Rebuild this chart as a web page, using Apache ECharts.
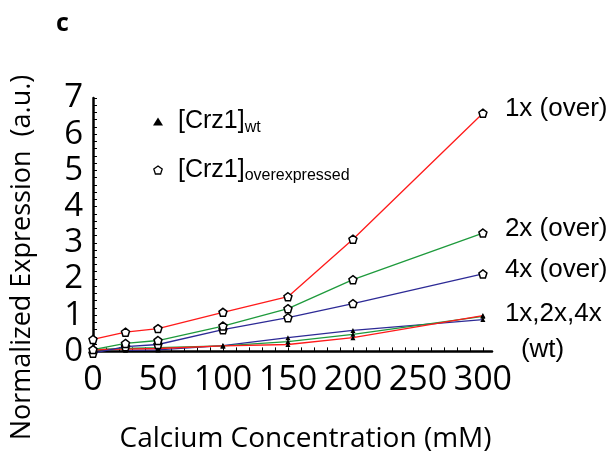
<!DOCTYPE html>
<html>
<head>
<meta charset="utf-8">
<script src="https://cdn.jsdelivr.net/npm/echarts@6/dist/echarts.min.js"></script>
<style>
  html, body { margin: 0; padding: 0; background: #fff; }
  #chart { width: 613px; height: 460px; }
</style>
</head>
<body>
<div id="chart"></div>
<script>
// Calcium concentrations (mM) and normalized expression for each construct
const calcium = [0, 25, 50, 100, 150, 200, 300];
const over1x = [0.33, 0.53, 0.63, 1.08, 1.51, 3.1, 6.58];
const over2x = [0.05, 0.22, 0.3, 0.7, 1.18, 1.98, 3.27];
const over4x = [-0.05, 0.13, 0.19, 0.6, 0.93, 1.32, 2.14];
const wt1x = [0.05, 0.06, 0.08, 0.15, 0.19, 0.38, 0.99];
const wt2x = [0.05, 0.08, 0.1, 0.15, 0.27, 0.47, 0.97];
const wt4x = [null, 0.03, 0.04, 0.16, 0.38, 0.58, 0.88];

// Axis tick labels
const xTickLabels = [0, 50, 100, 150, 200, 250, 300];
const yTickLabels = [0, 1, 2, 3, 4, 5, 6, 7];

const xMinorTicks = [];
for (let v = 0; v <= 300; v += 10) xMinorTicks.push(v);
const yMinorTicks = [];
for (let v = 0; v <= 35; v++) yMinorTicks.push(+(v * 0.2).toFixed(1));

const RED = '#ff1a1a', GREEN = '#1e9a3c', BLUE = '#2d2a96';
const PENTAGON = 'path://M0,-1L0.951,-0.309L0.588,0.809L-0.588,0.809L-0.951,-0.309Z';
const FONT = 'Open Sans';
const LABEL_FONT = 'Liberation Sans';

function pairs(values) {
  return calcium.map((c, i) => [c, values[i]]);
}

function overSeries(values, color, tag) {
  return {
    name: 'overexpressed',
    type: 'line',
    data: pairs(values),
    symbol: PENTAGON,
    symbolSize: 8,
    showAllSymbol: true,
    clip: false,
    z: 3,
    lineStyle: { color: color, width: 1.3 },
    itemStyle: { color: '#fff', borderColor: '#000', borderWidth: 1.5 },
    endLabel: {
      show: true,
      formatter: tag,
      distance: 22,
      offset: [0, -4],
      color: '#000',
      fontFamily: LABEL_FONT,
      fontSize: 26
    }
  };
}

function wtSeries(values, color, label) {
  const s = {
    name: 'wt',
    type: 'line',
    data: pairs(values),
    symbol: 'triangle',
    symbolSize: 5,
    showAllSymbol: true,
    connectNulls: false,
    clip: false,
    z: 2,
    lineStyle: { color: color, width: 1.3 },
    itemStyle: { color: '#000' }
  };
  if (label) {
    s.endLabel = {
      show: true,
      formatter: '{a|1x,2x,4x}\n{b|(wt)}',
      distance: 22,
      offset: [0, 16],
      color: '#000',
      fontFamily: LABEL_FONT,
      fontSize: 26,
      lineHeight: 36,
      rich: {
        a: { fontFamily: LABEL_FONT, fontSize: 26, lineHeight: 36 },
        b: { fontFamily: LABEL_FONT, fontSize: 26, lineHeight: 36, padding: [0, 0, 0, 16] }
      }
    };
  }
  return s;
}

const chart = echarts.init(document.getElementById('chart'), null, { renderer: 'canvas' });

chart.setOption({
  animation: false,
  backgroundColor: '#fff',
  grid: { left: 93, right: 121, top: 98, bottom: 105, containLabel: false },
  legend: {
    orient: 'vertical',
    left: 148,
    top: 104,
    itemGap: 22,
    itemWidth: 10,
    itemHeight: 8,
    selectedMode: false,
    data: [
      { name: 'wt', icon: 'triangle', itemStyle: { color: '#000', borderWidth: 0 } },
      { name: 'overexpressed', icon: PENTAGON, itemStyle: { color: '#fff', borderColor: '#000', borderWidth: 1.3 } }
    ],
    formatter: name => '{a|[Crz1]}{b|' + name + '}',
    textStyle: {
      color: '#000',
      rich: {
        a: { fontFamily: LABEL_FONT, fontSize: 25, color: '#000', padding: [0, 0, 0, 10] },
        b: { fontFamily: LABEL_FONT, fontSize: 16, color: '#000', padding: [12, 0, 0, 0] }
      }
    }
  },
  graphic: [
    {
      type: 'text',
      left: 56,
      top: 11,
      style: { text: 'c', font: 'bold 25px "Open Sans"', fill: '#000' }
    }
  ],
  xAxis: {
    type: 'value',
    min: 0,
    max: 307,
    name: 'Calcium Concentration (mM)',
    nameLocation: 'middle',
    nameGap: 70,
    nameTextStyle: { fontFamily: FONT, fontSize: 28, color: '#000', padding: [0, 0, 0, 26] },
    splitLine: { show: false },
    axisLine: { lineStyle: { color: '#000', width: 2.5 } },
    axisTick: { inside: true, length: 4, customValues: xMinorTicks, lineStyle: { color: '#000', width: 1 } },
    axisLabel: {
      customValues: xTickLabels,
      fontFamily: FONT,
      fontSize: 34,
      color: '#000',
      margin: 8
    }
  },
  yAxis: {
    type: 'value',
    min: -0.1,
    max: 7,
    name: 'Normalized Expression  (a.u.)',
    nameLocation: 'middle',
    nameGap: 57,
    nameTextStyle: { fontFamily: FONT, fontSize: 27, color: '#000', padding: [0, 62, 0, 0] },
    nameRotate: 90,
    splitLine: { show: false },
    axisLine: { lineStyle: { color: '#000', width: 2.5 } },
    axisTick: { inside: true, length: 4, customValues: yMinorTicks, lineStyle: { color: '#000', width: 1 } },
    axisLabel: {
      customValues: yTickLabels,
      fontFamily: FONT,
      fontSize: 33,
      color: '#000',
      margin: 10
    }
  },
  series: [
    wtSeries(wt4x, BLUE, false),
    wtSeries(wt2x, GREEN, false),
    wtSeries(wt1x, RED, true),
    overSeries(over4x, BLUE, '4x (over)'),
    overSeries(over2x, GREEN, '2x (over)'),
    overSeries(over1x, RED, '1x (over)')
  ]
});
</script>
</body>
</html>
